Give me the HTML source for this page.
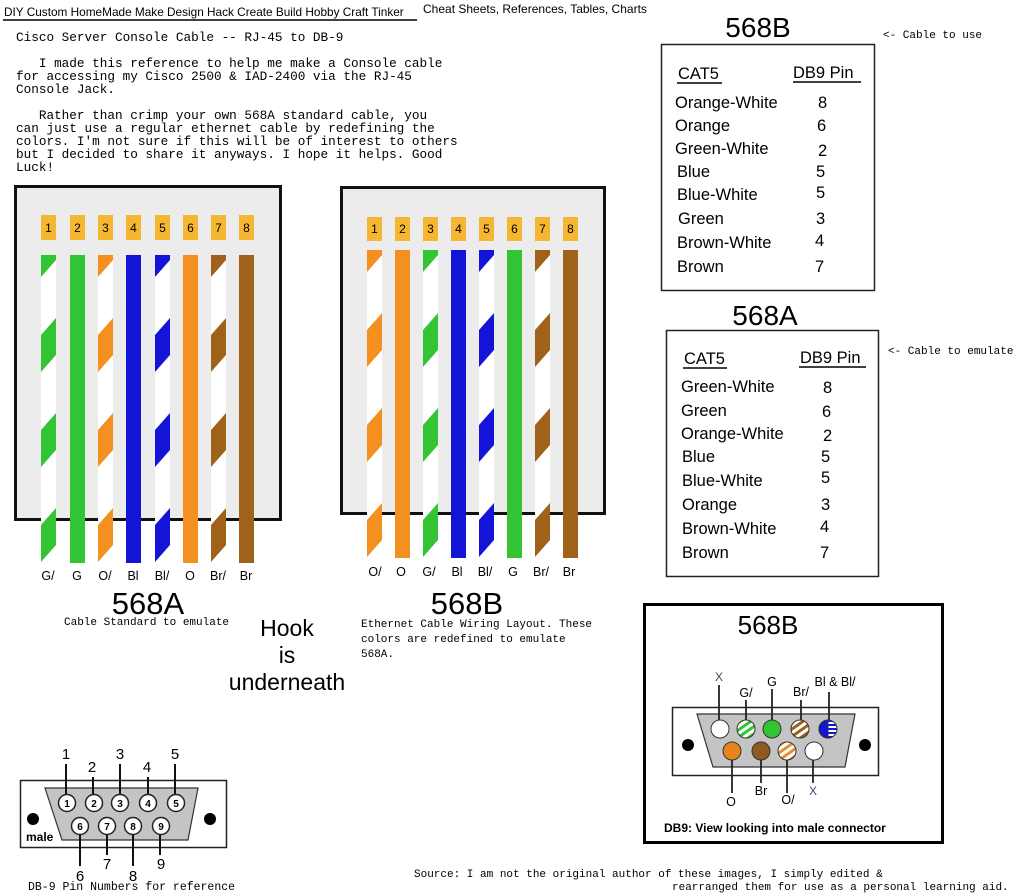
<!DOCTYPE html>
<html><head><meta charset="utf-8"><style>
html,body{margin:0;padding:0;background:#fff;width:1024px;height:893px;overflow:hidden}
svg{display:block}
.m{font-family:"Liberation Mono",monospace}
.s{font-family:"Liberation Sans",sans-serif}
</style></head><body>
<svg width="1024" height="893" viewBox="0 0 1024 893" xmlns="http://www.w3.org/2000/svg">
<defs>
<pattern id="pg" x="0" y="0" width="1" height="0.30844" patternUnits="objectBoundingBox"><rect width="15" height="95" fill="#fff"/><polygon points="0,0 15,0 15,5 0,22" fill="#33c433"/><polygon points="0,80 15,63 15,95 0,95" fill="#33c433"/></pattern>
<pattern id="po" x="0" y="0" width="1" height="0.30844" patternUnits="objectBoundingBox"><rect width="15" height="95" fill="#fff"/><polygon points="0,0 15,0 15,5 0,22" fill="#f39020"/><polygon points="0,80 15,63 15,95 0,95" fill="#f39020"/></pattern>
<pattern id="pb" x="0" y="0" width="1" height="0.30844" patternUnits="objectBoundingBox"><rect width="15" height="95" fill="#fff"/><polygon points="0,0 15,0 15,5 0,22" fill="#1414d8"/><polygon points="0,80 15,63 15,95 0,95" fill="#1414d8"/></pattern>
<pattern id="pr" x="0" y="0" width="1" height="0.30844" patternUnits="objectBoundingBox"><rect width="15" height="95" fill="#fff"/><polygon points="0,0 15,0 15,5 0,22" fill="#a0621a"/><polygon points="0,80 15,63 15,95 0,95" fill="#a0621a"/></pattern>
<pattern id="hg" width="6" height="6" patternUnits="userSpaceOnUse" patternTransform="rotate(-35)"><rect width="6" height="6" fill="#fff"/><rect width="6" height="3" fill="#33c433"/></pattern>
<pattern id="hr" width="6" height="6" patternUnits="userSpaceOnUse" patternTransform="rotate(-35)"><rect width="6" height="6" fill="#fff"/><rect width="6" height="3" fill="#a0621a"/></pattern>
<pattern id="ho" width="6" height="6" patternUnits="userSpaceOnUse" patternTransform="rotate(-35)"><rect width="6" height="6" fill="#fff"/><rect width="6" height="3" fill="#e89030"/></pattern>
<pattern id="hb" width="4" height="4" patternUnits="userSpaceOnUse"><rect width="4" height="4" fill="#fff"/><rect width="4" height="2" fill="#1414d8"/></pattern>
</defs>

<text x="4" y="16" class="s" font-size="11.8">DIY Custom HomeMade Make Design Hack Create Build Hobby Craft Tinker</text>
<line x1="3" y1="20" x2="417" y2="20" stroke="#000" stroke-width="1.5"/>
<text x="423" y="13" class="s" font-size="12">Cheat Sheets, References, Tables, Charts</text>

<g class="m" font-size="12.7">
<text x="16" y="41">Cisco Server Console Cable -- RJ-45 to DB-9</text>
<text x="16" y="67" xml:space="preserve">   I made this reference to help me make a Console cable</text>
<text x="16" y="80">for accessing my Cisco 2500 &amp; IAD-2400 via the RJ-45</text>
<text x="16" y="93">Console Jack.</text>
<text x="16" y="119" xml:space="preserve">   Rather than crimp your own 568A standard cable, you</text>
<text x="16" y="132">can just use a regular ethernet cable by redefining the</text>
<text x="16" y="145">colors. I'm not sure if this will be of interest to others</text>
<text x="16" y="158">but I decided to share it anyways. I hope it helps. Good</text>
<text x="16" y="171">Luck!</text>
</g>

<rect x="15.5" y="186.5" width="265" height="333" fill="#ececec" stroke="#111" stroke-width="3"/>
<g fill="#f5b731">
<rect x="41" y="215" width="15" height="25"/><rect x="70" y="215" width="15" height="25"/><rect x="98" y="215" width="15" height="25"/><rect x="126" y="215" width="15" height="25"/><rect x="155" y="215" width="15" height="25"/><rect x="183" y="215" width="15" height="25"/><rect x="211" y="215" width="15" height="25"/><rect x="239" y="215" width="15" height="25"/>
</g>
<g class="s" font-size="12" text-anchor="middle">
<text x="48.5" y="232">1</text><text x="77.5" y="232">2</text><text x="105.5" y="232">3</text><text x="133.5" y="232">4</text><text x="162.5" y="232">5</text><text x="190.5" y="232">6</text><text x="218.5" y="232">7</text><text x="246.5" y="232">8</text>
</g>
<rect x="41" y="255" width="15" height="308" fill="url(#pg)"/>
<rect x="70" y="255" width="15" height="308" fill="#33c433"/>
<rect x="98" y="255" width="15" height="308" fill="url(#po)"/>
<rect x="126" y="255" width="15" height="308" fill="#1414d8"/>
<rect x="155" y="255" width="15" height="308" fill="url(#pb)"/>
<rect x="183" y="255" width="15" height="308" fill="#f39020"/>
<rect x="211" y="255" width="15" height="308" fill="url(#pr)"/>
<rect x="239" y="255" width="15" height="308" fill="#a0621a"/>
<g class="s" font-size="12.5" text-anchor="middle">
<text x="48" y="580">G/</text><text x="77" y="580">G</text><text x="105" y="580">O/</text><text x="133" y="580">Bl</text><text x="162" y="580">Bl/</text><text x="190" y="580">O</text><text x="218" y="580">Br/</text><text x="246" y="580">Br</text>
</g>
<text x="148" y="614" class="s" font-size="31" text-anchor="middle">568A</text>
<text x="64" y="625" class="m" font-size="11">Cable Standard to emulate</text>

<g class="s" font-size="23" text-anchor="middle">
<text x="287" y="636">Hook</text><text x="287" y="663">is</text><text x="287" y="690">underneath</text>
</g>

<rect x="341.5" y="187.5" width="263" height="326" fill="#ececec" stroke="#111" stroke-width="3"/>
<g fill="#f5b731">
<rect x="367" y="217" width="15" height="24"/><rect x="395" y="217" width="15" height="24"/><rect x="423" y="217" width="15" height="24"/><rect x="451" y="217" width="15" height="24"/><rect x="479" y="217" width="15" height="24"/><rect x="507" y="217" width="15" height="24"/><rect x="535" y="217" width="15" height="24"/><rect x="563" y="217" width="15" height="24"/>
</g>
<g class="s" font-size="12" text-anchor="middle">
<text x="374.5" y="233">1</text><text x="402.5" y="233">2</text><text x="430.5" y="233">3</text><text x="458.5" y="233">4</text><text x="486.5" y="233">5</text><text x="514.5" y="233">6</text><text x="542.5" y="233">7</text><text x="570.5" y="233">8</text>
</g>
<rect x="367" y="250" width="15" height="308" fill="url(#po)"/>
<rect x="395" y="250" width="15" height="308" fill="#f39020"/>
<rect x="423" y="250" width="15" height="308" fill="url(#pg)"/>
<rect x="451" y="250" width="15" height="308" fill="#1414d8"/>
<rect x="479" y="250" width="15" height="308" fill="url(#pb)"/>
<rect x="507" y="250" width="15" height="308" fill="#33c433"/>
<rect x="535" y="250" width="15" height="308" fill="url(#pr)"/>
<rect x="563" y="250" width="15" height="308" fill="#a0621a"/>
<g class="s" font-size="12.5" text-anchor="middle">
<text x="375" y="576">O/</text><text x="401" y="576">O</text><text x="429" y="576">G/</text><text x="457" y="576">Bl</text><text x="485" y="576">Bl/</text><text x="513" y="576">G</text><text x="541" y="576">Br/</text><text x="569" y="576">Br</text>
</g>
<text x="467" y="614" class="s" font-size="31" text-anchor="middle">568B</text>
<g class="m" font-size="11">
<text x="361" y="627">Ethernet Cable Wiring Layout. These</text>
<text x="361" y="642">colors are redefined to emulate</text>
<text x="361" y="657">568A.</text>
</g>

<text x="758" y="37" class="s" font-size="28" text-anchor="middle">568B</text>
<text x="883" y="38" class="m" font-size="11">&lt;- Cable to use</text>
<rect x="661.5" y="44.5" width="213" height="246" fill="#fff" stroke="#222" stroke-width="1.5"/>
<g class="s" font-size="16.5">
<text x="678" y="79">CAT5</text><text x="793" y="78">DB9 Pin</text>
<line x1="677" y1="83" x2="722" y2="83" stroke="#000" stroke-width="1.5"/><line x1="793" y1="82" x2="861" y2="82" stroke="#000" stroke-width="1.5"/>
<text x="675" y="108">Orange-White</text><text x="818" y="108">8</text>
<text x="675" y="131">Orange</text><text x="817" y="131">6</text>
<text x="675" y="154">Green-White</text><text x="818" y="156">2</text>
<text x="677" y="177">Blue</text><text x="816" y="177">5</text>
<text x="677" y="200">Blue-White</text><text x="816" y="198">5</text>
<text x="678" y="224">Green</text><text x="816" y="224">3</text>
<text x="677" y="248">Brown-White</text><text x="815" y="246">4</text>
<text x="677" y="272">Brown</text><text x="815" y="272">7</text>
</g>

<text x="765" y="325" class="s" font-size="28" text-anchor="middle">568A</text>
<text x="888" y="354" class="m" font-size="11">&lt;- Cable to emulate</text>
<rect x="666.5" y="330.5" width="212" height="246" fill="#fff" stroke="#222" stroke-width="1.5"/>
<g class="s" font-size="16.5">
<text x="684" y="364">CAT5</text><text x="800" y="363">DB9 Pin</text>
<line x1="683" y1="368" x2="727" y2="368" stroke="#000" stroke-width="1.5"/><line x1="799" y1="367" x2="866" y2="367" stroke="#000" stroke-width="1.5"/>
<text x="681" y="392">Green-White</text><text x="823" y="393">8</text>
<text x="681" y="416">Green</text><text x="822" y="417">6</text>
<text x="681" y="439">Orange-White</text><text x="823" y="441">2</text>
<text x="682" y="462">Blue</text><text x="821" y="462">5</text>
<text x="682" y="486">Blue-White</text><text x="821" y="483">5</text>
<text x="682" y="510">Orange</text><text x="821" y="510">3</text>
<text x="682" y="534">Brown-White</text><text x="820" y="532">4</text>
<text x="682" y="558">Brown</text><text x="820" y="558">7</text>
</g>

<rect x="644.5" y="604.5" width="298" height="238" fill="#fff" stroke="#000" stroke-width="3"/>
<text x="768" y="634" class="s" font-size="26" text-anchor="middle">568B</text>
<rect x="672.5" y="707.5" width="206" height="68" fill="#fff" stroke="#222" stroke-width="1.5"/>
<polygon points="697,714 855,714 845,767 713,767" fill="#c4c4c4" stroke="#333" stroke-width="1.2"/>
<circle cx="688" cy="745" r="6" fill="#000"/><circle cx="865" cy="745" r="6" fill="#000"/>
<g stroke="#222" stroke-width="1.8">
<line x1="719" y1="685" x2="719" y2="720"/><line x1="746" y1="700" x2="746" y2="720"/><line x1="772" y1="689" x2="772" y2="720"/><line x1="801" y1="700" x2="801" y2="720"/><line x1="829" y1="692" x2="829" y2="720"/>
<line x1="732" y1="760" x2="732" y2="793"/><line x1="761" y1="760" x2="761" y2="783"/><line x1="787" y1="760" x2="787" y2="793"/><line x1="813" y1="760" x2="813" y2="783"/>
</g>
<g stroke="#333" stroke-width="1">
<circle cx="720" cy="729" r="9" fill="#fff"/>
<circle cx="746" cy="729" r="9" fill="url(#hg)"/>
<circle cx="772" cy="729" r="9" fill="#33c433"/>
<circle cx="800" cy="729" r="9" fill="url(#hr)"/>
<circle cx="828" cy="729" r="9" fill="url(#hb)"/>
<path d="M828,720 A9,9 0 0 0 828,738 Z" fill="#1414d8"/>
<circle cx="732" cy="751" r="9" fill="#e8841e"/>
<circle cx="761" cy="751" r="9" fill="#8f5a20"/>
<circle cx="787" cy="751" r="9" fill="url(#ho)"/>
<circle cx="814" cy="751" r="9" fill="#fff"/>
</g>
<g class="s" font-size="12.5" text-anchor="middle">
<text x="719" y="681" fill="#446" font-size="12">X</text><text x="746" y="697">G/</text><text x="772" y="686">G</text><text x="801" y="696">Br/</text><text x="835" y="686">Bl &amp; Bl/</text>
<text x="731" y="806">O</text><text x="761" y="795">Br</text><text x="788" y="804">O/</text><text x="813" y="795" fill="#446" font-size="12">X</text>
</g>
<text x="664" y="832" class="s" font-size="12" font-weight="bold">DB9: View looking into male connector</text>

<rect x="20.5" y="780.5" width="206" height="67" fill="#fff" stroke="#222" stroke-width="1.5"/>
<polygon points="45,788 198,788 188,840 62,840" fill="#c4c4c4" stroke="#333" stroke-width="1.2"/>
<circle cx="33" cy="819" r="6" fill="#000"/><circle cx="210" cy="819" r="6" fill="#000"/>
<text x="26" y="841" class="s" font-size="12" font-weight="bold">male</text>
<g stroke="#111" stroke-width="2">
<line x1="66" y1="764" x2="66" y2="795"/><line x1="93" y1="777" x2="93" y2="795"/><line x1="120" y1="764" x2="120" y2="795"/><line x1="148" y1="777" x2="148" y2="795"/><line x1="175" y1="764" x2="175" y2="795"/>
<line x1="80" y1="834" x2="80" y2="866"/><line x1="107" y1="834" x2="107" y2="855"/><line x1="133" y1="834" x2="133" y2="866"/><line x1="160" y1="834" x2="160" y2="855"/>
</g>
<g stroke="#222" stroke-width="1.5" fill="#fff">
<circle cx="67" cy="803" r="8.5"/><circle cx="94" cy="803" r="8.5"/><circle cx="120" cy="803" r="8.5"/><circle cx="148" cy="803" r="8.5"/><circle cx="176" cy="803" r="8.5"/>
<circle cx="80" cy="826" r="8.5"/><circle cx="107" cy="826" r="8.5"/><circle cx="133" cy="826" r="8.5"/><circle cx="161" cy="826" r="8.5"/>
</g>
<g class="s" font-size="10" font-weight="bold" text-anchor="middle">
<text x="67" y="807">1</text><text x="94" y="807">2</text><text x="120" y="807">3</text><text x="148" y="807">4</text><text x="176" y="807">5</text>
<text x="80" y="830">6</text><text x="107" y="830">7</text><text x="133" y="830">8</text><text x="161" y="830">9</text>
</g>
<g class="s" font-size="15" text-anchor="middle">
<text x="66" y="759">1</text><text x="92" y="772">2</text><text x="120" y="759">3</text><text x="147" y="772">4</text><text x="175" y="759">5</text>
<text x="80" y="881">6</text><text x="107" y="869">7</text><text x="133" y="881">8</text><text x="161" y="869">9</text>
</g>
<text x="28" y="890" class="m" font-size="11.5">DB-9 Pin Numbers for reference</text>

<g class="m" font-size="11">
<text x="414" y="877">Source: I am not the original author of these images, I simply edited &amp;</text>
<text x="672" y="890">rearranged them for use as a personal learning aid.</text>
</g>
</svg>
</body></html>
